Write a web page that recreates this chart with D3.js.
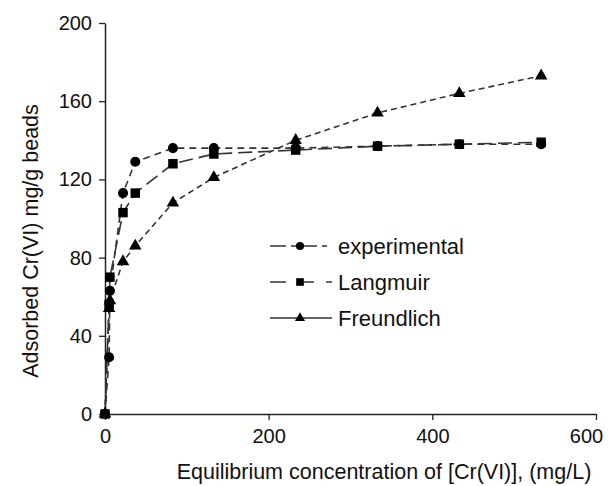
<!DOCTYPE html>
<html lang="en">
<head>
  <meta charset="UTF-8">
  <title>Cr(VI) adsorption isotherm</title>
  <script src="https://d3js.org/d3.v7.min.js"></script>
  <style>
    body { margin: 0; background: #fff; }
    svg { display: block; font-family: Arial, "Liberation Sans", sans-serif; }
  </style>
</head>
<body>
  <div id="chart"></div>

  <script>
    // data
    const concentration = [0, 5, 6, 22, 37, 83, 133, 233, 333, 433, 533];
    const experimental = [0, 29, 63, 113, 129, 136, 136, 136, 137, 138, 138];
    const langmuir     = [0, 56, 70, 103, 113, 128, 133, 135, 137, 138, 139];
    const freundlich   = [0, 54, 58, 78, 86, 108, 121, 140, 154, 164, 173];
    const xTicks = [0, 200, 400, 600];
    const yTicks = [0, 40, 80, 120, 160, 200];

    const series = [
      { name: "experimental", values: experimental, shape: d3.symbolCircle, size: 80, dash: "7,5" },
      { name: "Langmuir", values: langmuir, shape: d3.symbolSquare, size: 90, dash: "14,6" },
      { name: "Freundlich", values: freundlich, shape: d3.symbolTriangle, size: 68, dash: "6,4" }
    ];
    const legendDash = ["16,5,5,5", "16,12", null];

    const width = 609, height = 486;
    const svg = d3.select("#chart").append("svg")
      .attr("width", width)
      .attr("height", height);

    const x = d3.scaleLinear().domain([0, 600]).range([105, 596]);
    const y = d3.scaleLinear().domain([0, 200]).range([414, 23]);

    // axes
    const xAxis = svg.append("g")
      .attr("transform", "translate(0,414)")
      .call(d3.axisBottom(x).tickValues(xTicks).tickSize(6).tickSizeOuter(0).tickPadding(9));
    const yAxis = svg.append("g")
      .attr("transform", "translate(105,0)")
      .call(d3.axisLeft(y).tickValues(yTicks).tickSize(6).tickSizeOuter(0).tickPadding(7));

    [xAxis, yAxis].forEach(g => {
      g.select(".domain").attr("stroke", "#222").attr("stroke-width", 1.5);
      g.selectAll(".tick line").attr("stroke", "#222").attr("stroke-width", 1.3);
      g.selectAll(".tick text")
        .attr("fill", "#111")
        .style("font-size", "20px")
        .style("font-family", "Arial, 'Liberation Sans', sans-serif");
    });
    // the last x label sits a little left so it stays inside the frame
    xAxis.selectAll(".tick text").filter(d => d === 600).attr("dx", -10);

    // lines + markers
    const line = d3.line()
      .x((d, i) => x(concentration[i]))
      .y(d => y(d));

    series.forEach(s => {
      svg.append("path")
        .attr("fill", "none")
        .attr("stroke", "#333")
        .attr("stroke-width", 1.6)
        .attr("stroke-dasharray", s.dash)
        .attr("d", line(s.values));
    });

    series.forEach(s => {
      svg.append("g").selectAll("path")
        .data(s.values)
        .join("path")
        .attr("transform", (d, i) => `translate(${x(concentration[i])},${y(d)})`)
        .attr("d", d3.symbol().type(s.shape).size(s.size))
        .attr("fill", "#000");
    });

    // legend
    const legend = svg.append("g");
    series.forEach((s, i) => {
      const ly = 246 + i * 36;
      legend.append("line")
        .attr("x1", 270).attr("x2", 332)
        .attr("y1", ly).attr("y2", ly)
        .attr("stroke", "#333")
        .attr("stroke-width", 1.4)
        .attr("stroke-dasharray", legendDash[i]);
      legend.append("path")
        .attr("transform", `translate(300,${ly})`)
        .attr("d", d3.symbol().type(s.shape).size(s.size * 0.65))
        .attr("fill", "#000");
      legend.append("text")
        .attr("x", 338).attr("y", ly)
        .attr("dy", "0.35em")
        .attr("fill", "#111")
        .style("font-size", "22px")
        .text(s.name);
    });

    // axis titles
    svg.append("text")
      .attr("x", 384).attr("y", 479)
      .attr("text-anchor", "middle")
      .attr("fill", "#111")
      .style("font-size", "21.5px")
      .text("Equilibrium concentration of [Cr(VI)], (mg/L)");

    svg.append("text")
      .attr("transform", "translate(30,241) rotate(-90)")
      .attr("text-anchor", "middle")
      .attr("dy", "0.35em")
      .attr("fill", "#111")
      .style("font-size", "21.5px")
      .text("Adsorbed Cr(VI) mg/g beads");
  </script>
</body>
</html>
